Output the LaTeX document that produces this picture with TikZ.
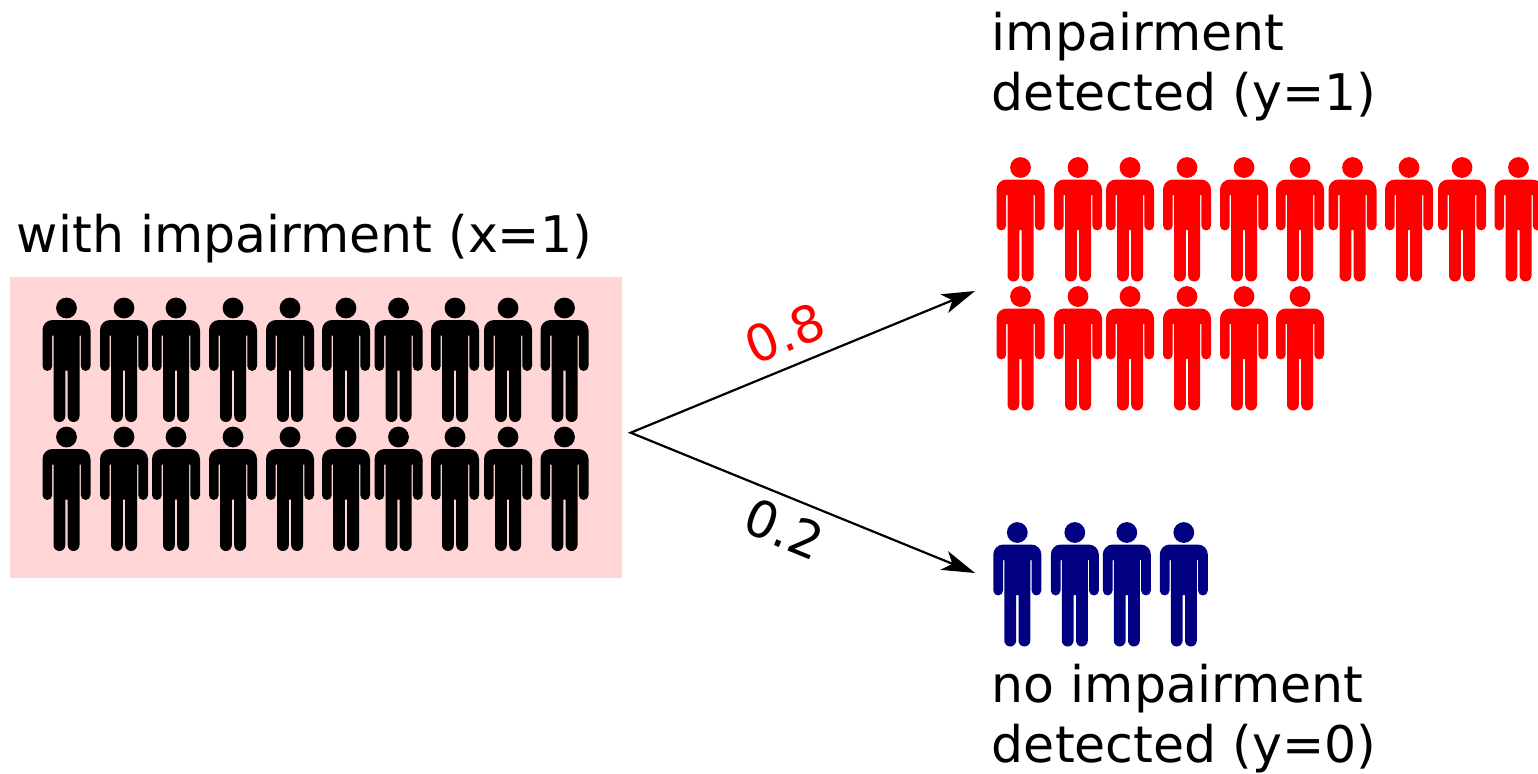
\documentclass[tikz,border=0pt]{standalone}
\usepackage{fontspec}
\setmainfont{DejaVu Sans}
\usetikzlibrary{arrows.meta}
\definecolor{boxpink}{RGB}{255,213,213}
\definecolor{navyblue}{RGB}{0,0,128}
\begin{document}
\begin{tikzpicture}[x=0.5pt,y=-0.5pt,
  pics/person/.style={code={
    \fill[#1] (0,10.5) circle[radius=10.4];
    \fill[#1] (-24,68.6) -- (-24,32.5) arc[start angle=180,end angle=270,radius=10]
      -- (14,22.5) arc[start angle=270,end angle=360,radius=10]
      -- (24,68.6) arc[start angle=0,end angle=180,radius=4.85]
      -- (14.3,38) -- (13,38) -- (13,118.6) arc[start angle=0,end angle=180,radius=5.9]
      -- (1.2,73) -- (-1.2,73) -- (-1.2,118.6) arc[start angle=0,end angle=180,radius=5.9]
      -- (-13,38) -- (-14.3,38) -- (-14.3,68.6) arc[start angle=0,end angle=180,radius=4.85]
      -- cycle;
  }},
  lab/.style={font=\fontsize{25.25}{30}\selectfont, inner sep=0pt, anchor=base west, align=left},
  numlab/.style={font=\fontsize{25.25}{30}\selectfont, inner sep=0pt, sloped},
  arr/.style={line width=1.1pt,
    {Stealth[length=16.5pt,width=10pt,inset=4.3pt]}-{Stealth[length=16.5pt,width=10pt,inset=4.3pt]}},
]
\useasboundingbox (0,0) rectangle (1538,773);
% group box
\node[fill=boxpink, minimum width=306pt, minimum height=150.5pt, inner sep=0pt, anchor=north west] (box) at (10,277) {};
% labels (anchor = baseline of the last line)
\node[lab] (tleft) at (16.5,252) {with impairment (x=1)};
\node[lab] (ttop) at (991.5,110) {impairment\\detected (y=1)};
\node[lab] (tbot) at (991.5,762) {no impairment\\detected (y=0)};
% people
\foreach \dx [count=\i] in {0,57.5,109.5,166.5,223.5,279.5,332,388.5,441.5,498} {
  \pic (pa\i) at (66.5+\dx,297.5) {person=black};
  \pic (pb\i) at (66.5+\dx,426.5) {person=black};
  \pic (ra\i) at (1020.5+\dx,157) {person=red};
}
\foreach \dx [count=\i] in {0,57.5,109.5,166.5,223.5,279.5} {
  \pic (rb\i) at (1020.5+\dx,286) {person=red};
}
\foreach \dx [count=\i] in {0,57.5,109.5,166.5} {
  \pic (nb\i) at (1017.3+\dx,522) {person=navyblue};
}
% arrows
\coordinate (s) at (630.7,432.7);
\coordinate (up) at (975,291);
\coordinate (dn) at (975,573);
\draw[arr] (up) -- (s) -- (dn);
\path (s) -- node[numlab, text=red, pos=0.485, above=6.8pt] (l08) {0.8} (up);
\path (s) -- node[numlab, pos=0.48, below=5.9pt] (l02) {0.2} (dn);
\end{tikzpicture}
\end{document}
